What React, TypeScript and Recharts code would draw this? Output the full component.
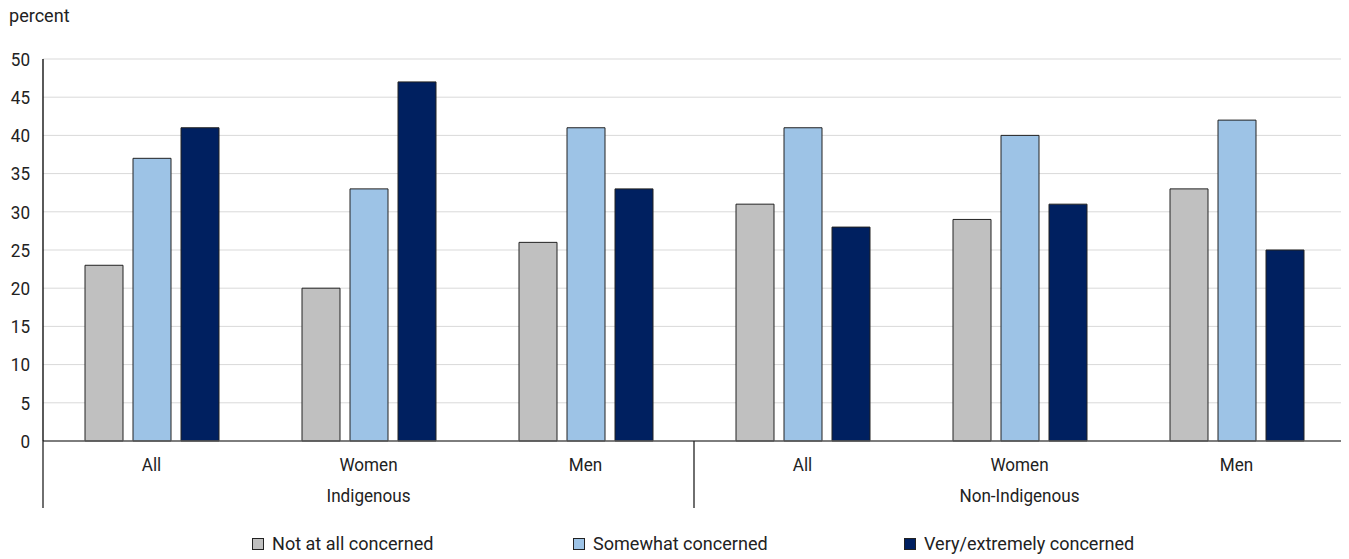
import { BarChart, Bar, XAxis, YAxis, CartesianGrid } from 'recharts';

const GROUPS = ['Indigenous', 'Non-Indigenous'];
const SUBGROUPS = ['All', 'Women', 'Men'];
const SERIES = ['Not at all concerned', 'Somewhat concerned', 'Very/extremely concerned'];
const COLORS = ['#c0c0c0', '#9dc3e6', '#002060'];

const notAtAll = [23, 20, 26, 31, 29, 33];
const somewhat = [37, 33, 41, 41, 40, 42];
const very = [41, 47, 33, 28, 31, 25];

const Y_TICKS = [0, 5, 10, 15, 20, 25, 30, 35, 40, 45, 50];

const data = GROUPS.flatMap((g, gi) =>
  SUBGROUPS.map((s, si) => {
    const i = gi * 3 + si;
    return { key: `${g}|${s}`, group: g, sub: s, a: notAtAll[i], b: somewhat[i], c: very[i] };
  })
);

const W = 1341;
const H = 551;
const PLOT_LEFT = 35;
const PLOT_RIGHT = 1337;
const PLOT_BOTTOM = 433;
const DIVIDER_H = 67;
const BAND = (PLOT_RIGHT - PLOT_LEFT) / data.length;
const FONT = 'Roboto, sans-serif';
const FS = 19;
const SX = 0.9; // narrow the glyphs, the original uses a condensed face
const TEXT = '#222';
const LEGEND_X = [244, 565, 896];

function CategoryTick(props: any) {
  const { x, index } = props;
  const d = data[index];
  if (!d) return null;
  const left = x - BAND / 2;
  return (
    <g>
      <text
        transform={`translate(${x},${PLOT_BOTTOM + 30}) scale(${SX},1)`}
        textAnchor="middle"
        fontSize={FS}
        fill={TEXT}
        fontFamily={FONT}
      >
        {d.sub}
      </text>
      {index % 3 === 1 && (
        <text
          transform={`translate(${x},${PLOT_BOTTOM + 61}) scale(${SX},1)`}
          textAnchor="middle"
          fontSize={FS}
          fill={TEXT}
          fontFamily={FONT}
        >
          {d.group}
        </text>
      )}
      {index % 3 === 0 && (
        <line x1={left} x2={left} y1={PLOT_BOTTOM} y2={PLOT_BOTTOM + DIVIDER_H} stroke="#222" strokeWidth={1.3} />
      )}
    </g>
  );
}

function ValueTick(props: any) {
  const { y, payload } = props;
  return (
    <text
      transform={`translate(${PLOT_LEFT - 13},${y}) scale(${SX},1)`}
      textAnchor="end"
      dy="0.36em"
      fontSize={FS}
      fill={TEXT}
      fontFamily={FONT}
    >
      {payload.value}
    </text>
  );
}

export default function App() {
  return (
    <div style={{ position: 'relative', width: W, height: H, fontFamily: FONT, color: TEXT }}>
      <div
        style={{
          position: 'absolute',
          left: 1,
          top: -4,
          fontSize: FS,
          transform: 'scaleX(0.95)',
          transformOrigin: 'left center',
        }}
      >
        percent
      </div>
      <BarChart
        width={W}
        height={H}
        data={data}
        margin={{ top: 51, right: 3, left: 0, bottom: 48 }}
        barSize={38}
        barGap={10}
      >
        <CartesianGrid vertical={false} stroke="#d9d9d9" />
        <XAxis
          dataKey="key"
          interval={0}
          height={70}
          tickLine={false}
          axisLine={{ stroke: '#595959', strokeWidth: 1.3 }}
          tick={<CategoryTick />}
        />
        <XAxis
          xAxisId="top"
          orientation="top"
          dataKey="key"
          height={0}
          tick={false}
          tickLine={false}
          axisLine={{ stroke: '#000', strokeWidth: 1.3 }}
        />
        <YAxis
          domain={[0, 50]}
          ticks={Y_TICKS}
          width={35}
          interval={0}
          tickLine={false}
          axisLine={{ stroke: '#000', strokeWidth: 1.3 }}
          tick={<ValueTick />}
        />
        <YAxis
          yAxisId="right"
          orientation="right"
          width={1}
          tick={false}
          tickLine={false}
          axisLine={{ stroke: '#000', strokeWidth: 1.3 }}
        />
        <Bar dataKey="a" name={SERIES[0]} fill={COLORS[0]} stroke="#222" strokeWidth={1} isAnimationActive={false} />
        <Bar dataKey="b" name={SERIES[1]} fill={COLORS[1]} stroke="#222" strokeWidth={1} isAnimationActive={false} />
        <Bar dataKey="c" name={SERIES[2]} fill={COLORS[2]} stroke="#222" strokeWidth={1} isAnimationActive={false} />
      </BarChart>
      {/* right end of the category frame below the axis */}
      <div
        style={{
          position: 'absolute',
          left: PLOT_RIGHT - 1,
          top: PLOT_BOTTOM,
          width: 1.3,
          height: DIVIDER_H,
          background: '#222',
        }}
      />
      {SERIES.map((s, i) => (
        <div
          key={s}
          style={{ position: 'absolute', left: LEGEND_X[i], top: 526, height: 20, display: 'flex', alignItems: 'center' }}
        >
          <span
            style={{
              display: 'inline-block',
              width: 10,
              height: 10,
              background: COLORS[i],
              border: '1px solid #222',
              marginRight: 8,
            }}
          />
          <span
            style={{
              display: 'inline-block',
              fontSize: FS,
              lineHeight: '20px',
              whiteSpace: 'nowrap',
              transform: 'scaleX(0.95)',
              transformOrigin: 'left center',
            }}
          >
            {s}
          </span>
        </div>
      ))}
    </div>
  );
}
